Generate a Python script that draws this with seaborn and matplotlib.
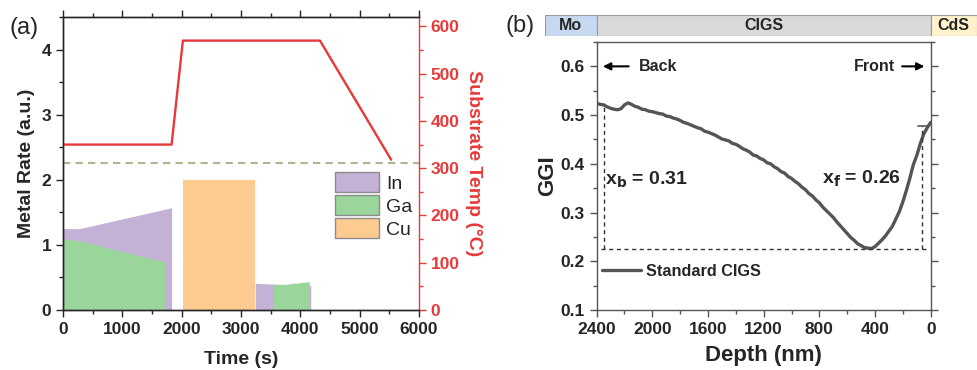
import numpy as np
import matplotlib
matplotlib.use('Agg')
import matplotlib.pyplot as plt
from matplotlib.patches import Patch
from matplotlib.ticker import MultipleLocator
import seaborn as sns

# ---- panel (a) data ----
in1_t = [0, 280, 1830]
in1_rate = [1.25, 1.25, 1.57]
ga1_t = [0, 250, 900, 1715]
ga1_rate = [1.09, 1.07, 0.92, 0.74]
cu_t = [2030, 3230]
cu_rate = [2.0, 2.0]
in2_t = [3240, 4175]
in2_rate = [0.41, 0.375]
ga2_t = [3545, 3700, 4150]
ga2_rate = [0.39, 0.39, 0.435]
temp_t = [0, 1830, 2020, 4330, 5530]
temp_c = [350, 350, 570, 570, 318]
dash_level = 2.25
metals = ['In', 'Ga', 'Cu']

# ---- panel (b) data ----
depth = [2400, 2375, 2350, 2325, 2300, 2275, 2250, 2225, 2200, 2175, 2150, 2125,
         2100, 2075, 2050, 2025, 2000, 1975, 1950, 1925, 1900, 1875, 1850, 1825,
         1800, 1775, 1750, 1725, 1700, 1675, 1650, 1625, 1600, 1575, 1550, 1525,
         1500, 1475, 1450, 1425, 1400, 1375, 1350, 1325, 1300, 1275, 1250, 1225,
         1200, 1175, 1150, 1125, 1100, 1075, 1050, 1025, 1000, 975, 950, 925,
         900, 875, 850, 825, 800, 775, 750, 725, 700, 675, 650, 625,
         600, 575, 550, 525, 500, 475, 450, 425, 400, 375, 350, 325,
         300, 275, 250, 225, 200, 175, 150, 125, 100, 75, 50, 25, 0]
ggi = [0.524, 0.522, 0.521, 0.517, 0.514, 0.512, 0.511, 0.513, 0.521, 0.525, 0.522, 0.518,
       0.516, 0.512, 0.511, 0.508, 0.507, 0.505, 0.503, 0.502, 0.498, 0.497, 0.494, 0.492,
       0.489, 0.485, 0.483, 0.480, 0.477, 0.474, 0.472, 0.467, 0.465, 0.462, 0.459, 0.455,
       0.451, 0.449, 0.447, 0.442, 0.440, 0.436, 0.431, 0.428, 0.424, 0.418, 0.416, 0.411,
       0.408, 0.402, 0.400, 0.394, 0.390, 0.384, 0.381, 0.374, 0.370, 0.364, 0.359, 0.352,
       0.347, 0.339, 0.334, 0.326, 0.320, 0.311, 0.304, 0.297, 0.290, 0.281, 0.273, 0.265,
       0.257, 0.249, 0.243, 0.236, 0.232, 0.228, 0.227, 0.226, 0.230, 0.237, 0.244, 0.252,
       0.262, 0.272, 0.287, 0.302, 0.322, 0.345, 0.370, 0.398, 0.417, 0.441, 0.461, 0.474, 0.485]
ggi_min = 0.225
xb_depth, xb_top = 2350, 0.52
xf_depth, xf_top = 65, 0.478
layers = ['Mo', 'CIGS', 'CdS']
layer_spans = [(2771, 2400), (2400, 0), (0, -333)]

sns.set_style('ticks')
plt.rcParams['font.family'] = ['Liberation Sans', 'DejaVu Sans']
plt.rcParams['font.weight'] = 'bold'
plt.rcParams['axes.linewidth'] = 1.0

c_in, c_ga, c_cu = '#c3b1d6', '#9ad69c', '#fdca8f'
c_red = '#e8393a'

fig = plt.figure(figsize=(9.77, 3.70), dpi=100)

# ================= panel (a) =================
ax = fig.add_axes([0.0645, 0.1622, 0.3644, 0.7919])
ax2 = ax.twinx()

ax.fill_between(in1_t, in1_rate, 0, color=c_in, lw=0)
ax.fill_between(ga1_t, ga1_rate, 0, color=c_ga, lw=0)
ax.fill_between(cu_t, cu_rate, 0, color=c_cu, lw=0)
ax.fill_between(in2_t, in2_rate, 0, color=c_in, lw=0)
ax.fill_between(ga2_t, ga2_rate, 0, color=c_ga, lw=0)
ax.axhline(dash_level, color='#b3b393', lw=1.5, dashes=(3.5, 2.5))

sns.lineplot(x=temp_t, y=temp_c, ax=ax2, color=c_red, lw=1.7, sort=False)

ax.set_xlim(0, 6000)
ax.set_ylim(0, 4.5)
ax2.set_ylim(0, 620)
ax.set_xticks([0, 1000, 2000, 3000, 4000, 5000, 6000])
ax.set_yticks([0, 1, 2, 3, 4])
ax2.set_yticks([0, 100, 200, 300, 400, 500, 600])
ax.xaxis.set_minor_locator(MultipleLocator(500))
ax.yaxis.set_minor_locator(MultipleLocator(0.5))
ax2.yaxis.set_minor_locator(MultipleLocator(50))

ax.tick_params(which='both', direction='out', top=True, labelsize=12.5, width=1.0)
ax.tick_params(which='major', length=5)
ax.tick_params(which='minor', length=3)
ax2.tick_params(which='both', direction='out', colors=c_red, labelsize=12.5, width=1.0)
ax2.tick_params(which='major', length=5)
ax2.tick_params(which='minor', length=3)
ax2.spines['right'].set_color(c_red)
ax.spines['right'].set_visible(False)
for a in (ax, ax2):
    for lab in a.get_xticklabels() + a.get_yticklabels():
        lab.set_fontweight('bold')

ax.set_xlabel('Time (s)', fontsize=14, fontweight='bold', labelpad=10)
ax.set_ylabel('Metal Rate (a.u.)', fontsize=14, fontweight='bold', labelpad=5)
ax2.set_ylabel('Substrate Temp (\u00b0C)', fontsize=14, fontweight='bold',
               color=c_red, rotation=270, labelpad=16)

handles = [Patch(facecolor=c, edgecolor='#8c8c8c', lw=1.0) for c in (c_in, c_ga, c_cu)]
leg = ax.legend(handles, metals, loc='upper left', bbox_to_anchor=(0.764, 0.47),
                frameon=False, borderpad=0, borderaxespad=0,
                handlelength=2.27, handleheight=1.2, labelspacing=0.12,
                handletextpad=0.35, prop={'size': 14, 'weight': 'normal'})

fig.text(0.010, 0.924, '(a)', fontsize=17, fontweight='normal', va='center')

# ================= panel (b) =================
bx = fig.add_axes([0.6107, 0.1622, 0.3419, 0.7243])
sns.lineplot(x=depth, y=ggi, ax=bx, color='#555555', lw=2.4, sort=False,
             label='Standard CIGS')

dline = dict(color='#333333', lw=1.0, dashes=(3, 2.5))
bx.plot([2370, 20], [ggi_min, ggi_min], **dline)
bx.plot([xb_depth, xb_depth], [ggi_min, xb_top], **dline)
bx.plot([xf_depth, xf_depth], [ggi_min, xf_top], **dline)
bx.plot([xf_depth + 25, xf_depth - 45], [xf_top, xf_top], color='#555555', lw=1.2)

bx.set_xlim(2400, 0)
bx.set_ylim(0.1, 0.65)
bx.set_xticks([2400, 2000, 1600, 1200, 800, 400, 0])
bx.set_yticks([0.1, 0.2, 0.3, 0.4, 0.5, 0.6])
bx.xaxis.set_minor_locator(MultipleLocator(200))
bx.yaxis.set_minor_locator(MultipleLocator(0.05))
bx.tick_params(which='both', direction='out', right=True, labelsize=12.5,
               width=1.0, color='#555555')
bx.tick_params(which='major', length=5)
bx.tick_params(which='minor', length=3)
for s in bx.spines.values():
    s.set_color('#555555')
for lab in bx.get_xticklabels() + bx.get_yticklabels():
    lab.set_fontweight('bold')
bx.set_xlabel('Depth (nm)', fontsize=16, fontweight='bold', labelpad=6)
bx.set_ylabel('GGI', fontsize=16, fontweight='bold', labelpad=2)

bx.legend(loc='center left', bbox_to_anchor=(0.015, 0.144), frameon=False,
          borderpad=0, borderaxespad=0, handlelength=2.45, handletextpad=0.3,
          prop={'size': 11.7, 'weight': 'bold'})

bx.text(2340, 0.367, r'x$_\mathbf{b}$ = 0.31', fontsize=14, fontweight='bold',
        ha='left', va='center')
bx.text(780, 0.370, r'x$_\mathbf{f}$ = 0.26', fontsize=14, fontweight='bold',
        ha='left', va='center')

bx.annotate('', xy=(2375, 0.6), xytext=(2150, 0.6),
            arrowprops=dict(arrowstyle='-|>', color='black', lw=1.5, mutation_scale=11))
bx.text(2100, 0.6, 'Back', fontsize=11.5, fontweight='bold', ha='left', va='center')
bx.annotate('', xy=(25, 0.6), xytext=(225, 0.6),
            arrowprops=dict(arrowstyle='-|>', color='black', lw=1.5, mutation_scale=11))
bx.text(260, 0.6, 'Front', fontsize=11.5, fontweight='bold', ha='right', va='center')

# layer bar above panel (b)
tx = fig.add_axes([0.5578, 0.9035, 0.4422, 0.0559])
tx.set_xlim(2771, -333)
tx.set_ylim(0, 1)
layer_colors = ['#c6d9f1', '#d9d9d9', '#fff2cc']
for name, (x0, x1), col in zip(layers, layer_spans, layer_colors):
    tx.axvspan(x0, x1, color=col, ec='#9a9a9a', lw=0.8)
    tx.text((x0 + x1) / 2, 0.5, name, fontsize=11.5, fontweight='bold',
            ha='center', va='center')
tx.axis('off')

fig.text(0.517, 0.930, '(b)', fontsize=17, fontweight='normal', va='center')

fig.savefig('out.png', dpi=100)
